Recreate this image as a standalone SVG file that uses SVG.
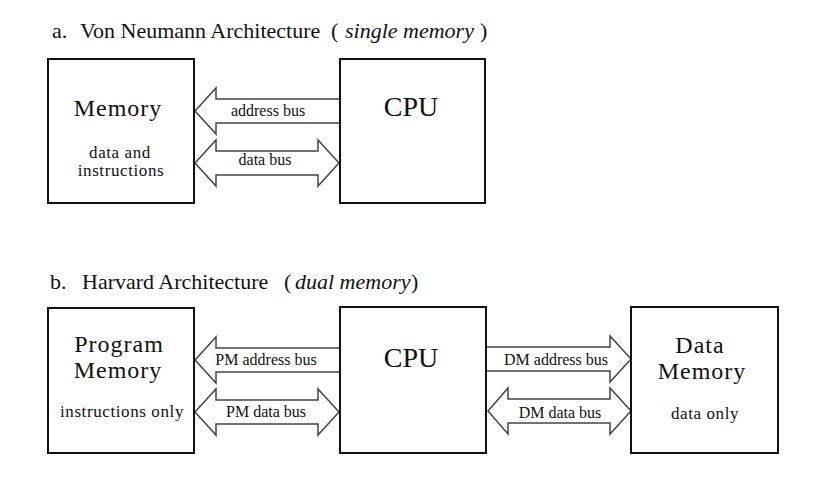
<svg xmlns="http://www.w3.org/2000/svg" width="832" height="490" viewBox="0 0 832 490">
<style>
text{font-family:"Liberation Serif","Times New Roman",serif;fill:#111}
.title{font-size:22px}
.it{font-style:italic}
.big{font-size:24px;letter-spacing:1px;text-anchor:middle}
.cpu{font-size:28px;text-anchor:middle}
.sub{font-size:17px;letter-spacing:0.6px;text-anchor:middle}
.bus{font-size:16px;text-anchor:middle}
.box{fill:#fff;stroke:#111;stroke-width:2}
.arr{fill:#fff;stroke:#444;stroke-width:1.5;stroke-linejoin:miter}
</style>
<rect width="832" height="490" fill="#fff"/>
<g id="title-a"><text class="title" y="38"><tspan x="52">a.</tspan><tspan x="80">Von Neumann Architecture</tspan><tspan x="331">(</tspan><tspan x="345" class="it">single memory</tspan><tspan x="480">)</tspan></text></g>
<g id="title-b"><text class="title" y="289"><tspan x="50">b.</tspan><tspan x="82">Harvard Architecture</tspan><tspan x="284">(</tspan><tspan x="295" class="it">dual memory</tspan><tspan x="411">)</tspan></text></g>
<g id="connectors">
<polyline class="arr" points="340,99 216,99 216,88 195,111 216,134 216,123 340,123"/>
<polygon class="arr" points="195,163 216,140 216,151 318,151 318,140 339,163 318,186 318,175 216,175 216,186"/>
<polyline class="arr" points="340,348 216,348 216,337 195,360 216,383 216,372 340,372"/>
<polygon class="arr" points="195,412 216,389 216,400 318,400 318,389 339,412 318,435 318,424 216,424 216,435"/>
<polyline class="arr" points="486,347 610,347 610,336 631,359 610,382 610,371 486,371"/>
<polygon class="arr" points="488,411 508,388 508,399 610,399 610,388 631,411 610,434 610,423 508,423 508,434"/>
<text class="bus" x="268" y="116">address bus</text>
<text class="bus" x="265" y="165">data bus</text>
<text class="bus" x="266" y="365">PM address bus</text>
<text class="bus" x="266" y="417">PM data bus</text>
<text class="bus" x="556" y="365">DM address bus</text>
<text class="bus" x="560" y="418">DM data bus</text>
</g>
<g id="memory">
<rect class="box" x="48" y="59" width="146" height="144"/>
<text class="big" x="118" y="116">Memory</text>
<text class="sub" x="120" y="158">data and</text>
<text class="sub" x="121" y="176">instructions</text>
</g>
<g id="cpu-a">
<rect class="box" x="340" y="59" width="145" height="144"/>
<text class="cpu" x="411" y="116">CPU</text>
</g>
<g id="program-memory">
<rect class="box" x="48" y="308" width="146" height="145"/>
<text class="big" x="119" y="352">Program</text>
<text class="big" x="118" y="378">Memory</text>
<text class="sub" x="122" y="417">instructions only</text>
</g>
<g id="cpu-b">
<rect class="box" x="340" y="307" width="146" height="146"/>
<text class="cpu" x="411" y="367">CPU</text>
</g>
<g id="data-memory">
<rect class="box" x="631" y="307" width="147" height="146"/>
<text class="big" x="700" y="353">Data</text>
<text class="big" x="702" y="379">Memory</text>
<text class="sub" x="705" y="419">data only</text>
</g>
</svg>
